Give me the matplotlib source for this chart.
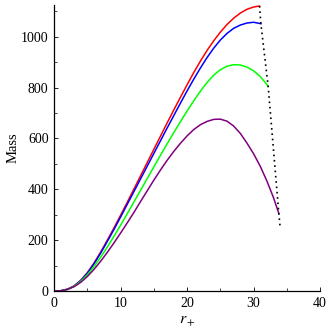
import matplotlib.pyplot as plt
from matplotlib.ticker import MultipleLocator

plt.rcParams['font.family'] = 'Liberation Serif'
plt.rcParams['mathtext.fontset'] = 'stix'

# valores
r_vermelho = [0, 1, 2, 3, 4, 5, 6, 7, 8, 9, 10, 11, 12, 13, 14, 15, 16, 17, 18, 19,
              20, 21, 22, 23, 24, 25, 26, 27, 28, 29, 30, 30.9]
m_vermelho = [0, 1, 7, 20, 42, 72, 110, 153, 200, 248, 298, 349, 401, 453, 505, 557,
              609, 661, 712, 762, 811, 859, 904, 946, 984, 1018, 1048, 1073, 1093,
              1108, 1117, 1121]

r_azul = [0, 1, 2, 3, 4, 5, 6, 7, 8, 9, 10, 11, 12, 13, 14, 15, 16, 17, 18, 19,
          20, 21, 22, 23, 24, 25, 26, 27, 28, 29, 30, 31, 31.1]
m_azul = [0, 1, 7, 19, 41, 70, 107, 149, 195, 242, 291, 341, 391, 441, 491, 541,
          591, 641, 690, 739, 787, 833, 877, 918, 955, 987, 1013, 1033, 1046, 1054,
          1057, 1052, 1051]

r_verde = [0, 1, 2, 3, 4, 5, 6, 7, 8, 9, 10, 11, 12, 13, 14, 15, 16, 17, 18, 19,
           20, 21, 22, 23, 24, 25, 26, 27, 28, 29, 30, 31, 32, 32.2]
m_verde = [0, 1, 6, 18, 38, 64, 96, 133, 173, 215, 259, 304, 350, 396, 442, 488,
           534, 579, 623, 666, 708, 748, 786, 820, 849, 870, 884, 890, 889, 881, 866,
           844, 812, 804]

r_roxo = [0, 1, 2, 3, 4, 5, 6, 7, 8, 9, 10, 11, 12, 13, 14, 15, 16, 17, 18, 19,
          20, 21, 22, 23, 24, 25, 26, 27, 28, 29, 30, 31, 32, 33, 33.8]
m_roxo = [0, 1, 6, 17, 34, 57, 85, 117, 152, 189, 228, 268, 309, 352, 394, 436,
          476, 514, 549, 581, 610, 635, 654, 667, 675, 676, 668, 649, 620, 582, 540,
          491, 433, 367, 305]

# linha pontilhada pelos extremos
r_limite = [30.9, 31.1, 32.2, 33.8, 34.0]
m_limite = [1121, 1051, 804, 305, 250]

fig, ax = plt.subplots(figsize=(3.32, 3.32), dpi=100)
fig.subplots_adjust(left=0.163, right=0.964, bottom=0.1235, top=0.985)

ax.plot(r_vermelho, m_vermelho, color='#ff0000', lw=1.1)
ax.plot(r_azul, m_azul, color='#0000ff', lw=1.1)
ax.plot(r_verde, m_verde, color='#00ff00', lw=1.1)
ax.plot(r_roxo, m_roxo, color='#800080', lw=1.1)
ax.plot(r_limite, m_limite, color='black', lw=1.2, linestyle=(0, (1, 2.2)))

ax.set_xlim(0, 40)
ax.set_ylim(0, 1125)
ax.xaxis.set_major_locator(MultipleLocator(10))
ax.xaxis.set_minor_locator(MultipleLocator(5))
ax.yaxis.set_major_locator(MultipleLocator(200))
ax.yaxis.set_minor_locator(MultipleLocator(100))
ax.tick_params(direction='in', labelsize=10, length=3, width=0.6, pad=4)
ax.tick_params(which='minor', direction='in', length=2, width=0.5)

ax.spines['top'].set_visible(False)
ax.spines['right'].set_visible(False)
ax.spines['left'].set_linewidth(0.9)
ax.spines['bottom'].set_linewidth(0.9)

ax.set_xlabel('$r_+$', fontsize=11.5, labelpad=2)
ax.set_ylabel('Mass', fontsize=10.5, labelpad=1)

plt.savefig('out.png', dpi=100)
